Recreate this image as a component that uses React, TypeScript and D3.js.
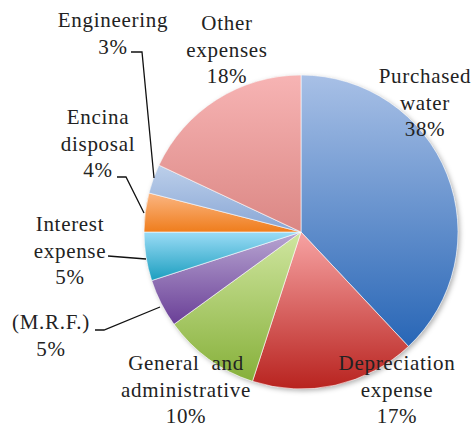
import React from "react";
import * as d3 from "d3";

const categories = [
  "Purchased water",
  "Depreciation expense",
  "General and administrative",
  "(M.R.F.)",
  "Interest expense",
  "Encina disposal",
  "Engineering",
  "Other expenses",
];
const values = [38, 17, 10, 5, 5, 4, 3, 18];
const labelLines = [
  ["Purchased", "water", "38%"],
  ["Depreciation", "expense", "17%"],
  ["General  and", "administrative", "10%"],
  ["(M.R.F.)", "5%"],
  ["Interest", "expense", "5%"],
  ["Encina", "disposal", "4%"],
  ["Engineering", "3%"],
  ["Other", "expenses", "18%"],
];
const gradTop = ["#a8c0e6", "#f7a3a3", "#d0e6a0", "#b8a6d2", "#9bdcf6", "#fbb683", "#bccfea", "#f7b4b4"];
const gradBottom = ["#2866b6", "#b8231f", "#86b03a", "#6a3f97", "#1b9ebf", "#ef7d1c", "#88a6d5", "#db8784"];

// label anchor (center x, first baseline y)
const labelPos: [number, number][] = [
  [425, 83],
  [397, 370],
  [186, 370],
  [51, 329],
  [70, 231],
  [98, 124],
  [113, 27],
  [227, 30],
];
// leader lines (polyline points), null if none
const leaders: ([number, number][] | null)[] = [
  null,
  null,
  null,
  [[95, 330], [104, 330], [160, 307]],
  [[108, 256], [146, 259]],
  [[117, 177], [126, 177], [144, 213]],
  [[131, 52], [142, 52], [154, 178]],
  null,
];

export default function App() {
  const W = 472, H = 427;
  const cx = 301, cy = 232, r = 157;
  const pie = d3.pie<number>().sort(null).value((d) => d)(values);
  const arc = d3.arc<d3.PieArcDatum<number>>().innerRadius(0).outerRadius(r);
  const lh = 26.5;
  return (
    <svg width={W} height={H} style={{ position: "absolute", left: 0, top: 0, background: "#fff" }}>
      <defs>
        {values.map((_, i) => (
          <linearGradient key={i} id={`g${i}`} x1="0" y1="0" x2="0" y2="1">
            <stop offset="0%" stopColor={gradTop[i]} />
            <stop offset="100%" stopColor={gradBottom[i]} />
          </linearGradient>
        ))}
        <filter id="sh" x="-10%" y="-10%" width="130%" height="130%">
          <feDropShadow dx="2" dy="2" stdDeviation="2.5" floodColor="#000" floodOpacity="0.3" />
        </filter>
      </defs>
      <g transform={`translate(${cx},${cy})`}>
        <circle r={r} fill="#ccc" filter="url(#sh)" />
        {pie.map((p, i) => (
          <path key={categories[i]} d={arc(p) || ""} fill={`url(#g${i})`} stroke="#fff" strokeWidth={0.6} />
        ))}
      </g>
      {leaders.map((l, i) =>
        l ? (
          <polyline key={i} points={l.map((p) => p.join(",")).join(" ")} fill="none" stroke="#111" strokeWidth={1.3} />
        ) : null
      )}
      {labelLines.map((lines, i) => (
        <text
          key={i}
          textAnchor="middle"
          fontSize={21}
          letterSpacing={0.7}
          fill="#222"
          style={{ whiteSpace: "pre", fontFamily: "Liberation Serif, DejaVu Serif, serif" }}
        >
          {lines.map((t, j) => (
            <tspan key={j} x={labelPos[i][0]} y={labelPos[i][1] + j * lh}>
              {t}
            </tspan>
          ))}
        </text>
      ))}
    </svg>
  );
}
